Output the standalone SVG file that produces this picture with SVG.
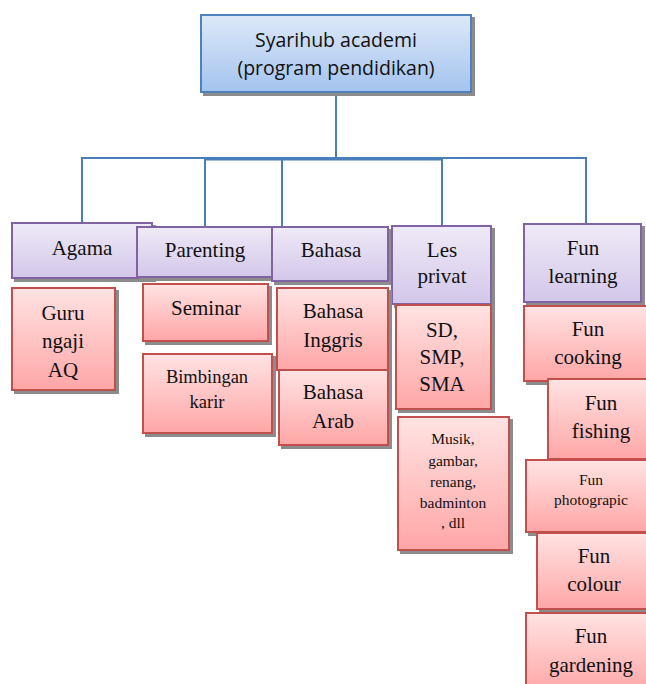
<svg xmlns="http://www.w3.org/2000/svg" width="646" height="684" viewBox="0 0 646 684">
  <defs>
    <linearGradient id="gBlue" x1="0" y1="0" x2="0" y2="1">
      <stop offset="0" stop-color="#dde9f9"/>
      <stop offset="1" stop-color="#a3c3ee"/>
    </linearGradient>
    <linearGradient id="gPurple" x1="0" y1="0" x2="0" y2="1">
      <stop offset="0" stop-color="#efeaf7"/>
      <stop offset="1" stop-color="#d3c7e9"/>
    </linearGradient>
    <linearGradient id="gRed" x1="0" y1="0" x2="0" y2="1">
      <stop offset="0" stop-color="#ffe3e3"/>
      <stop offset="1" stop-color="#ffa6a6"/>
    </linearGradient>
    <filter id="shadow" x="-10%" y="-10%" width="130%" height="130%">
      <feDropShadow dx="3" dy="3" stdDeviation="0.4" flood-color="#8c8c8c" flood-opacity="1"/>
    </filter>
  </defs>
  <style>
    .root { fill: url(#gBlue); stroke: #4f81bd; stroke-width: 2; filter: url(#shadow); }
    .cat { fill: url(#gPurple); stroke: #8064a2; stroke-width: 2; filter: url(#shadow); }
    .item { fill: url(#gRed); stroke: #c0504d; stroke-width: 2; filter: url(#shadow); }
    .sans { font-family: "Open Sans", "Liberation Sans", sans-serif; font-size: 19.5px; fill: #111; text-anchor: middle; }
    .serif { font-family: "Liberation Serif", "Times New Roman", serif; font-size: 21px; fill: #111; text-anchor: middle; }
    .small { font-size: 18.5px; }
    .tiny { font-size: 15.5px; }
    .conn { fill: none; stroke: #4a7ebb; stroke-width: 2; }
  </style>

  <rect width="646" height="684" fill="#ffffff"/>

  <!-- connectors -->
  <g id="connectors">
    <line class="conn" x1="336" y1="92" x2="336" y2="158"/>
    <polyline class="conn" points="82,224 82,158 586,158 586,224"/>
    <line class="conn" x1="205" y1="158" x2="205" y2="227"/>
    <line class="conn" x1="282" y1="158" x2="282" y2="227"/>
    <line class="conn" x1="442" y1="158" x2="442" y2="226"/>
    <line class="conn" x1="205" y1="159.5" x2="442" y2="159.5" stroke-width="1"/>
  </g>

  <!-- root -->
  <g id="root">
    <rect class="root" x="201" y="15" width="270" height="77"/>
    <text class="sans" x="336" y="47">Syarihub academi</text>
    <text class="sans" x="336" y="75">(program pendidikan)</text>
  </g>

  <!-- categories -->
  <g id="agama">
    <rect class="cat" x="12" y="223" width="140" height="55"/>
    <text class="serif" x="82" y="255">Agama</text>
  </g>
  <g id="parenting">
    <rect class="cat" x="137" y="227" width="135" height="50"/>
    <text class="serif" x="205" y="257">Parenting</text>
  </g>
  <g id="bahasa">
    <rect class="cat" x="272" y="227" width="116" height="54"/>
    <text class="serif" x="331" y="257">Bahasa</text>
  </g>
  <g id="les-privat">
    <rect class="cat" x="392" y="226" width="99" height="78"/>
    <text class="serif" x="442" y="257">Les</text>
    <text class="serif" x="442" y="283">privat</text>
  </g>
  <g id="fun-learning">
    <rect class="cat" x="524" y="224" width="117" height="78"/>
    <text class="serif" x="583" y="255">Fun</text>
    <text class="serif" x="583" y="283">learning</text>
  </g>

  <!-- Agama items -->
  <g id="guru-ngaji">
    <rect class="item" x="12" y="288" width="103" height="102"/>
    <text class="serif" x="63" y="320">Guru</text>
    <text class="serif" x="63" y="348">ngaji</text>
    <text class="serif" x="63" y="377">AQ</text>
  </g>

  <!-- Parenting items -->
  <g id="seminar">
    <rect class="item" x="143" y="284" width="125" height="57"/>
    <text class="serif" x="206" y="315">Seminar</text>
  </g>
  <g id="bimbingan-karir">
    <rect class="item" x="143" y="354" width="129" height="79"/>
    <text class="serif small" x="207" y="383">Bimbingan</text>
    <text class="serif small" x="207" y="408">karir</text>
  </g>

  <!-- Bahasa items -->
  <g id="bahasa-inggris">
    <rect class="item" x="277" y="288" width="111" height="82"/>
    <text class="serif" x="333" y="318">Bahasa</text>
    <text class="serif" x="333" y="347">Inggris</text>
  </g>
  <g id="bahasa-arab">
    <rect class="item" x="279" y="370" width="109" height="75"/>
    <text class="serif" x="333" y="399">Bahasa</text>
    <text class="serif" x="333" y="428">Arab</text>
  </g>

  <!-- Les privat items -->
  <g id="sd-smp-sma">
    <rect class="item" x="396" y="305" width="95" height="104"/>
    <text class="serif" x="442" y="337">SD,</text>
    <text class="serif" x="442" y="364">SMP,</text>
    <text class="serif" x="442" y="391">SMA</text>
  </g>
  <g id="musik">
    <rect class="item" x="398" y="417" width="111" height="133"/>
    <text class="serif tiny" x="453" y="444">Musik,</text>
    <text class="serif tiny" x="453" y="466">gambar,</text>
    <text class="serif tiny" x="453" y="487">renang,</text>
    <text class="serif tiny" x="453" y="508">badminton</text>
    <text class="serif tiny" x="453" y="528">, dll</text>
  </g>

  <!-- Fun learning items -->
  <g id="fun-cooking">
    <rect class="item" x="524" y="306" width="130" height="75"/>
    <text class="serif" x="588" y="336">Fun</text>
    <text class="serif" x="588" y="364">cooking</text>
  </g>
  <g id="fun-fishing">
    <rect class="item" x="548" y="379" width="106" height="80"/>
    <text class="serif" x="601" y="410">Fun</text>
    <text class="serif" x="601" y="438">fishing</text>
  </g>
  <g id="fun-photograpic">
    <rect class="item" x="526" y="460" width="128" height="72"/>
    <text class="serif tiny" x="591" y="485">Fun</text>
    <text class="serif tiny" x="591" y="505">photograpic</text>
  </g>
  <g id="fun-colour">
    <rect class="item" x="537" y="533" width="117" height="76"/>
    <text class="serif" x="594" y="563">Fun</text>
    <text class="serif" x="594" y="591">colour</text>
  </g>
  <g id="fun-gardening">
    <rect class="item" x="526" y="613" width="128" height="80"/>
    <text class="serif" x="591" y="643">Fun</text>
    <text class="serif" x="591" y="672">gardening</text>
  </g>
</svg>
